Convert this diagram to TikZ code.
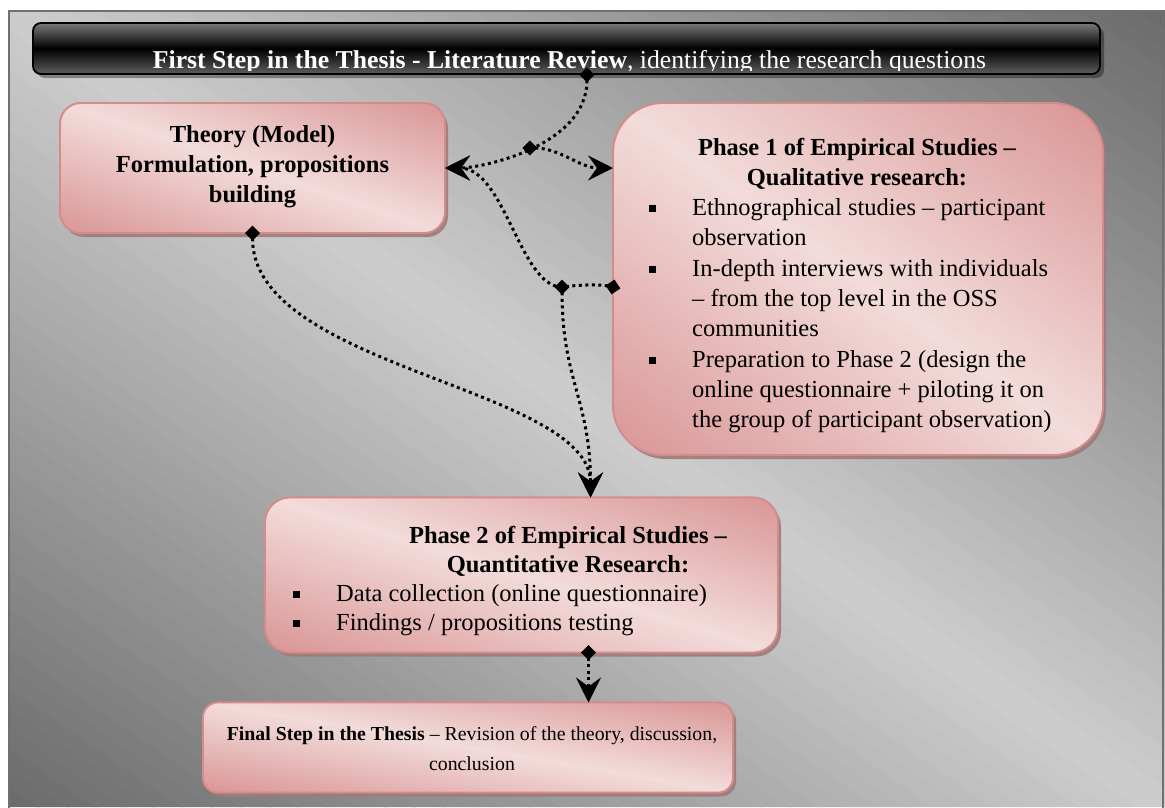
\documentclass[tikz,border=0pt]{standalone}
\usepackage{fontspec}
\setmainfont{Liberation Serif}
\usetikzlibrary{arrows.meta,shadows,calc}

\definecolor{bgdark}{HTML}{6B6B6B}
\definecolor{bglight}{HTML}{CDCDCD}
\definecolor{pinkdark}{HTML}{D99594}
\definecolor{pinklight}{HTML}{F2DCDB}
\definecolor{pinkedge}{HTML}{D48C8B}
\definecolor{pinkshadow}{HTML}{9E7B7B}
\definecolor{framegray}{HTML}{707070}
\definecolor{bartop}{HTML}{7A7A7A}
\definecolor{barbottom}{HTML}{5E5E5E}

% square bullet followed by the hanging indent of the list text
\newcommand{\sqbul}{\makebox[43.5pt][l]{\raisebox{3.5pt}{\rule{7pt}{7pt}}}}
\newcommand{\indnt}{\hspace*{43.5pt}}

% diagonal two-way gradient over node #1 of size #2 x #3 (pt), corner radius #4:
% colour #6 along the top-left/bottom-right diagonal, #5 in the other two corners
\newcommand{\diagfill}[6]{%
  \begin{scope}
    \clip[rounded corners=#4pt] (#1.south west) rectangle (#1.north east);
    \begin{scope}[shift={(#1.south west)}, x={(#2pt,0pt)}, y={(0pt,#3pt)}]
      % lower-left half: from the dark corner up to the diagonal
      \foreach \k in {0,...,39} {
        \pgfmathsetmacro{\gla}{\k/40}
        \pgfmathsetmacro{\glb}{(\k+1.1)/40}
        \pgfmathsetmacro{\gsh}{98.75-2.5*\k}
        \fill[#5!\gsh!#6] ({\gla},0) -- ({\glb},0) -- (0,{\glb}) -- (0,{\gla}) -- cycle;
      }
      % upper-right half: from the diagonal out to the dark corner
      \foreach \k in {0,...,39} {
        \pgfmathsetmacro{\gla}{\k/40}
        \pgfmathsetmacro{\glb}{(\k+1.1)/40}
        \pgfmathsetmacro{\gsh}{1.25+2.5*\k}
        \fill[#5!\gsh!#6] (1,{\gla}) -- (1,{\glb}) -- ({\glb},1) -- ({\gla},1) -- cycle;
      }
    \end{scope}
  \end{scope}}

\begin{document}
\begin{tikzpicture}[x=1pt,y=1pt,
  pinkbox/.style 2 args={draw=pinkedge, line width=1.8pt, fill=pinklight,
    minimum width=#1pt, minimum height=#2pt, inner sep=0pt, outer sep=0pt,
    drop shadow={shadow xshift=3pt, shadow yshift=-4pt, fill=pinkshadow, opacity=0.9}},
  boxedge/.style={draw=pinkedge, line width=1.8pt},
  txt/.style={inner sep=0pt, anchor=base, font=\fontsize{24.5}{30.3}\selectfont},
  txtb/.style={inner sep=0pt, anchor=base, font=\fontsize{24.5}{29}\selectfont},
  link/.style={line width=3pt, dash pattern=on 3pt off 3.5pt,
    {Turned Square[length=15pt,width=15pt]}-{Stealth[length=25pt,width=25pt,inset=9pt]},
    shorten <=-7.5pt},
]
\useasboundingbox (0,0) rectangle (1165,-807);

% gray backdrop with its frame
\node[inner sep=0pt, outer sep=0pt, fill=bglight, minimum width=1157pt, minimum height=797pt]
  (backdrop) at (586.5,-408.5) {};
\diagfill{backdrop}{1157}{797}{0}{bgdark}{bglight}
\draw[framegray, line width=2pt] (9,-808) -- (9,-11) -- (1163,-11) -- (1163,-808);

% header bar
\node[draw=black, line width=1.8pt, rounded corners=8pt, inner sep=0pt,
  top color=bartop, bottom color=barbottom, middle color=black,
  minimum width=1067pt, minimum height=51pt,
  drop shadow={shadow xshift=4pt, shadow yshift=-4pt, fill=black, opacity=0.35}]
  (bar) at (566.5,-48.5) {};
\begin{scope}
  \clip (30,-20) rectangle (1105,-70.5);
  \node[inner sep=0pt, anchor=base, font=\fontsize{25.7}{30}\selectfont, text=white]
    (bartext) at (569.5,-68)
    {\textbf{First Step in the Thesis - Literature Review}, identifying the research questions};
\end{scope}

% boxes: outline with shadow, gradient inside, outline drawn again on top
\node[pinkbox={385}{130}, rounded corners=21pt] (theory) at (252.5,-168) {};
\diagfill{theory}{385}{130}{21}{pinkdark}{pinklight}
\draw[boxedge, rounded corners=21pt] (theory.south west) rectangle (theory.north east);

\node[pinkbox={490}{352}, rounded corners=50pt] (phase1) at (858,-279) {};
\diagfill{phase1}{490}{352}{50}{pinkdark}{pinklight}
\draw[boxedge, rounded corners=50pt] (phase1.south west) rectangle (phase1.north east);

\node[pinkbox={513}{155}, rounded corners=25pt] (phase2) at (521.5,-575) {};
\diagfill{phase2}{513}{155}{25}{pinkdark}{pinklight}
\draw[boxedge, rounded corners=25pt] (phase2.south west) rectangle (phase2.north east);

\node[pinkbox={530}{90}, rounded corners=15pt] (final) at (468,-747.5) {};
\diagfill{final}{530}{90}{15}{pinkdark}{pinklight}
\draw[boxedge, rounded corners=15pt] (final.south west) rectangle (final.north east);

% box texts
\node[txt] (theorytext) at (252.5,-142)
  {\bfseries\begin{tabular}[t]{@{}c@{}}Theory (Model)\\Formulation, propositions\\building\end{tabular}};

\node[txt] (p1title) at (857,-155)
  {\bfseries\begin{tabular}[t]{@{}c@{}}Phase 1 of Empirical Studies –\\Qualitative research:\end{tabular}};
\node[txt, anchor=base west] (p1list) at (648.5,-215.6)
  {\begin{tabular}[t]{@{}l@{}}
   \sqbul Ethnographical studies – participant\\
   \indnt observation\\
   \sqbul In-depth interviews with individuals\\
   \indnt – from the top level in the OSS\\
   \indnt communities\\
   \sqbul Preparation to Phase 2 (design the\\
   \indnt online questionnaire + piloting it on\\
   \indnt the group of participant observation)
   \end{tabular}};

\node[txtb] (p2title) at (568,-543)
  {\bfseries\begin{tabular}[t]{@{}c@{}}Phase 2 of Empirical Studies –\\Quantitative Research:\end{tabular}};
\node[txtb, anchor=base west] (p2list) at (292.5,-601)
  {\begin{tabular}[t]{@{}l@{}}
   \sqbul Data collection (online questionnaire)\\
   \sqbul Findings / propositions testing
   \end{tabular}};

\node[inner sep=0pt, anchor=base, font=\fontsize{19.8}{30}\selectfont] (finaltext) at (472,-740)
  {\begin{tabular}[t]{@{}c@{}}\textbf{Final Step in the Thesis} – Revision of the theory, discussion,\\conclusion\end{tabular}};

% connector end points
\coordinate (barout) at ($(bar.south)+(20.5,0)$);
\coordinate (p1in) at (phase1.west |- theory.east);
\coordinate (p1out) at ($(phase1.west)+(0,-8)$);
\coordinate (j2) at ($(p1out)+(-51,0)$);
\coordinate (p2in) at ($(phase2.north)+(69,0)$);
\coordinate (p2out) at ($(phase2.south)+(67,0)$);
\coordinate (fin) at (p2out |- final.north);

% connectors
\draw[link] (barout) .. controls +(0,-71) and +(37,0) .. (theory.east)
  coordinate[pos=0.5] (j1);
\draw[link] (j1) .. controls +(30,0) and +(-33,0) .. (p1in);
\draw[link] (p1out) .. controls +(-15,3) and +(15,2) .. (j2)
  .. controls +(-42,0) and +(60,0) .. (theory.east);
\draw[link] (j2) .. controls +(0,-93) and +(0,97) .. (p2in);
\draw[link] (theory.south) .. controls +(0,-135) and +(0,110) .. (p2in);
\draw[link] (p2out) -- (fin);
\end{tikzpicture}
\end{document}
